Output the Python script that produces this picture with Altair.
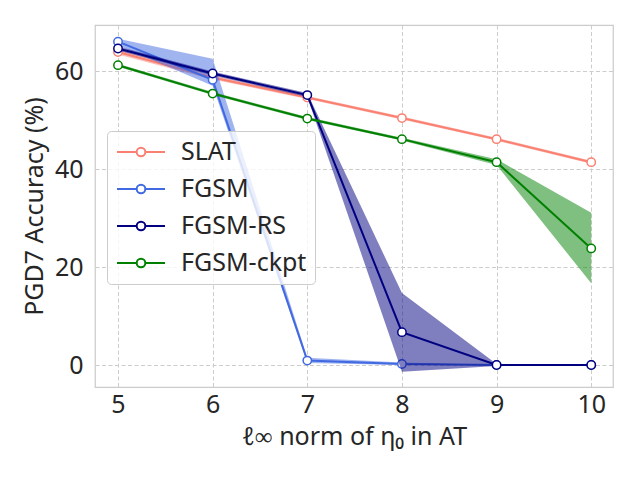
import altair as alt
import pandas as pd

x_vals = [5, 6, 7, 8, 9, 10]
methods = ["SLAT", "FGSM", "FGSM-RS", "FGSM-ckpt"]
colors = ["#fa8072", "#4169e1", "#000080", "#008000"]

slat = [63.9, 58.7, 54.6, 50.4, 46.1, 41.4]
slat_lo = [63.4, 58.3, 54.3, 50.1, 45.8, 41.1]
slat_hi = [64.4, 59.1, 54.9, 50.7, 46.4, 41.7]

fgsm = [66.0, 58.2, 0.9, 0.2, 0.0, 0.0]
fgsm_lo = [65.2, 57.0, 0.4, 0.0, 0.0, 0.0]
fgsm_hi = [66.6, 62.5, 1.5, 0.5, 0.0, 0.0]

rs = [64.6, 59.5, 55.1, 6.7, 0.0, 0.0]
rs_lo = [64.2, 59.1, 54.7, -1.4, -0.2, 0.0]
rs_hi = [65.0, 59.9, 55.5, 14.7, 0.2, 0.0]

ckpt = [61.2, 55.4, 50.3, 46.1, 41.4, 23.8]
ckpt_lo = [60.9, 55.1, 50.0, 45.8, 40.8, 16.7]
ckpt_hi = [61.5, 55.7, 50.6, 46.4, 42.0, 31.1]

series = {
    "SLAT": (slat, slat_lo, slat_hi),
    "FGSM": (fgsm, fgsm_lo, fgsm_hi),
    "FGSM-RS": (rs, rs_lo, rs_hi),
    "FGSM-ckpt": (ckpt, ckpt_lo, ckpt_hi),
}

rows = []
for m in methods:
    v, lo, hi = series[m]
    for i, xv in enumerate(x_vals):
        rows.append({"eta": xv, "method": m, "acc": v[i], "lo": lo[i], "hi": hi[i]})
df = pd.DataFrame(rows)

FONT = "Noto Sans"
TXT = "#262626"
FS = 25

xscale = alt.Scale(domain=[4.757, 10.23], nice=False, zero=False)
yscale = alt.Scale(domain=[-4.49, 69.4], nice=False, zero=False)
stroke_scale = alt.Scale(domain=methods, range=colors)

legend_path = ("M-2,0L-0.36,0M0.36,0L2,0"
               "M0.36,0A0.36,0.36,0,1,1,-0.36,0A0.36,0.36,0,1,1,0.36,0Z")
legend = alt.Legend(
    title=None, orient="none", legendX=12, legendY=106,
    symbolType=legend_path, symbolSize=576, symbolStrokeWidth=2,
    symbolFillColor="white", symbolOffset=13, labelOffset=27,
    labelFont=FONT, labelFontSize=FS, labelColor=TXT, labelLimit=400,
    rowPadding=11, padding=8, fillColor="rgba(255,255,255,0.8)",
    strokeColor="#cccccc", cornerRadius=4,
)

x_enc = alt.X("eta:Q", scale=xscale,
              axis=alt.Axis(values=x_vals, title="ℓ∞ norm of η₀ in AT"))
y_enc = alt.Y("acc:Q", scale=yscale,
              axis=alt.Axis(values=[0, 20, 40, 60], title="PGD7 Accuracy (%)"))

layers = []
for m, c in zip(methods, colors):
    base = alt.Chart(df).transform_filter(alt.datum.method == m)
    area = base.mark_area(opacity=0.5, color=c).encode(
        x=x_enc, y=alt.Y("lo:Q", scale=yscale), y2="hi:Q")
    line = base.mark_line(strokeWidth=2).encode(
        x=x_enc, y=y_enc,
        stroke=alt.Stroke("method:N", scale=stroke_scale, legend=legend))
    pts = base.mark_point(filled=False, fill="white", fillOpacity=1, size=70,
                          strokeWidth=1.5, opacity=1).encode(
        x=x_enc, y=y_enc,
        stroke=alt.Stroke("method:N", scale=stroke_scale, legend=legend))
    layers += [area, line, pts]

chart = alt.layer(*layers).properties(
    width=518, height=362,
    autosize=alt.AutoSizeParams(type="none"),
    padding={"left": 87, "top": 17, "right": 10, "bottom": 80},
    background="white",
).configure_view(
    stroke="#cccccc", strokeWidth=1.25
).configure_axis(
    domain=False, ticks=False, tickSize=0,
    grid=True, gridColor="#cccccc", gridDash=[4, 2.5], gridWidth=1,
    labelFont=FONT, labelFontSize=FS, labelColor=TXT,
    titleFont=FONT, titleFontSize=FS, titleColor=TXT, titleFontWeight="normal",
).configure_axisX(
    labelPadding=5, titlePadding=7
).configure_axisY(
    labelPadding=12, titlePadding=7
)

chart.save("out.html", embed_options={"renderer": "svg", "actions": False})
